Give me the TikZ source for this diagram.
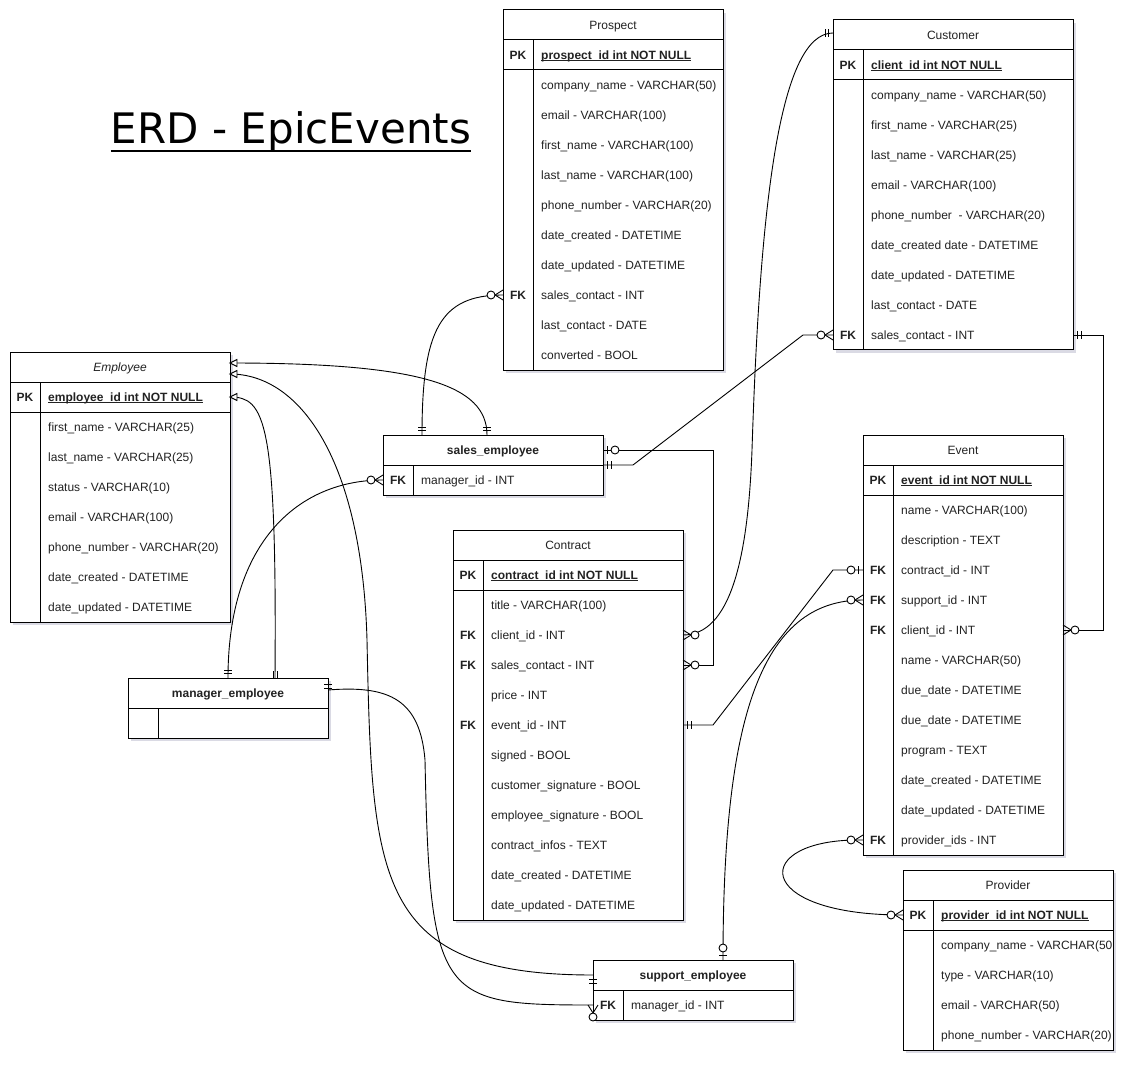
\documentclass[tikz,border=0pt]{standalone}
\usepackage{fontspec}
\setmainfont{Liberation Sans}
\newfontfamily\titlefont{DejaVu Sans}
\usetikzlibrary{calc}
\definecolor{txt}{HTML}{222222}
\definecolor{shadowc}{RGB}{218,218,228}
\newcommand\pkt[1]{\textbf{\setbox0=\hbox{#1}\rlap{\rule[-2pt]{\wd0}{0.8pt}}\box0}}
\tikzset{
  tbl/.style={draw=black, line width=1pt},
  hdr/.style={draw=black, line width=1pt, fill=white, anchor=north west, minimum height=30pt, inner sep=0pt, outer sep=0pt, text=txt, text height=8.6pt, text depth=0.5pt},
  rowbox/.style={minimum height=30pt, inner sep=0pt, outer sep=0pt},
  keyt/.style={font=\fontsize{12}{14}\selectfont\bfseries, text=txt, inner sep=0pt, text height=8.6pt, text depth=0.5pt},
  valt/.style={anchor=west, font=\fontsize{12}{14}\selectfont, text=txt, inner sep=0pt, text height=8.6pt, text depth=0.5pt},
  conn/.style={draw=black, line width=0.9pt},
  mandone/.pic={\draw[line width=0.9pt] (4.5,-4)--(4.5,4) (8,-4)--(8,4);},
  zeromany/.pic={\draw[line width=0.9pt] (0,-5)--(8,0)--(0,5); \draw[line width=0.9pt, fill=white] (12,0) circle[radius=4pt];},
  zeroone/.pic={\draw[line width=0.9pt] (4.5,-4)--(4.5,4); \draw[line width=0.9pt, fill=white] (12,0) circle[radius=4pt];},
  otri/.pic={\draw[line width=0.9pt, fill=white] (0,0)--(7,-3.5)--(7,3.5)--cycle;},
}
% #1 name, #2 x, #3 y, #4 width, #5 rows, #6 title, #7 title font, #8 rows list
\newcommand\ertable[8]{%
  \fill[shadowc] (#2+3,#3+3) rectangle ++(#4,30*#5+30);
  \draw[tbl, fill=white] (#2,#3+30) rectangle ++(#4,30*#5);
  \node[hdr, minimum width=#4pt, font=\fontsize{12}{14}\selectfont#7] (#1) at (#2,#3) {#6};
  \draw[tbl] (#2,#3+60) -- ++(#4,0);
  \draw[tbl] (#2+30,#3+30) -- ++(0,30*#5);
  \foreach \kk/\vv [count=\ri from 0] in {#8}{%
    \node[rowbox, minimum width=#4pt] (#1-\ri) at (#2+#4/2,#3+45+30*\ri) {};
    \node[keyt] at (#2+15,#3+45+30*\ri) {\kk};
    \node[valt] at (#2+38,#3+45+30*\ri) {\vv};
  }%
}
\begin{document}
\begin{tikzpicture}[x=1pt,y=-1pt]
\fill[white] (0,0) rectangle (1130,1067);
\useasboundingbox (0,0) rectangle (1130,1067);

% title
\node[font=\titlefont\fontsize{42}{50}\selectfont, anchor=base, inner sep=0pt, text=black] (title) at (291,144) {ERD - EpicEvents};
\draw[line width=2.6pt] ([yshift=-7pt]title.base west) -- ([yshift=-7pt]title.base east);

% tables
\ertable{pro}{503}{10}{220}{11}{Prospect}{}{PK/{\pkt{prospect\_id int NOT NULL}}, /{company\_name - VARCHAR(50)}, /{email - VARCHAR(100)}, /{first\_name - VARCHAR(100)}, /{last\_name - VARCHAR(100)}, /{phone\_number - VARCHAR(20)}, /{date\_created - DATETIME}, /{date\_updated - DATETIME}, FK/{sales\_contact - INT}, /{last\_contact - DATE}, /{converted - BOOL}}

\ertable{cus}{833}{20}{240}{10}{Customer}{}{PK/{\pkt{client\_id int NOT NULL}}, /{company\_name - VARCHAR(50)}, /{first\_name - VARCHAR(25)}, /{last\_name - VARCHAR(25)}, /{email - VARCHAR(100)}, /{phone\_number~ - VARCHAR(20)}, /{date\_created date - DATETIME}, /{date\_updated - DATETIME}, /{last\_contact - DATE}, FK/{sales\_contact - INT}}

\ertable{emp}{10}{352}{220}{8}{Employee}{\itshape}{PK/{\pkt{employee\_id int NOT NULL}}, /{first\_name - VARCHAR(25)}, /{last\_name - VARCHAR(25)}, /{status - VARCHAR(10)}, /{email - VARCHAR(100)}, /{phone\_number - VARCHAR(20)}, /{date\_created - DATETIME}, /{date\_updated - DATETIME}}

\ertable{se}{383}{435}{220}{1}{sales\_employee}{\bfseries}{FK/{manager\_id - INT}}

\ertable{ev}{863}{435}{200}{13}{Event}{}{PK/{\pkt{event\_id int NOT NULL}}, /{name - VARCHAR(100)}, /{description - TEXT}, FK/{contract\_id - INT}, FK/{support\_id - INT}, FK/{client\_id - INT}, /{name - VARCHAR(50)}, /{due\_date - DATETIME}, /{due\_date - DATETIME}, /{program - TEXT}, /{date\_created - DATETIME}, /{date\_updated - DATETIME}, FK/{provider\_ids - INT}}

\ertable{con}{453}{530}{230}{12}{Contract}{}{PK/{\pkt{contract\_id int NOT NULL}}, /{title - VARCHAR(100)}, FK/{client\_id - INT}, FK/{sales\_contact - INT}, /{price - INT}, FK/{event\_id - INT}, /{signed - BOOL}, /{customer\_signature - BOOL}, /{employee\_signature - BOOL}, /{contract\_infos - TEXT}, /{date\_created - DATETIME}, /{date\_updated - DATETIME}}

\ertable{me}{128}{678}{200}{1}{manager\_employee}{\bfseries}{{}/{}}

\ertable{sup}{593}{960}{200}{1}{support\_employee}{\bfseries}{FK/{manager\_id - INT}}

\ertable{prov}{903}{870}{210}{5}{Provider}{}{PK/{\pkt{provider\_id int NOT NULL}}, /{company\_name - VARCHAR(50}, /{type - VARCHAR(10)}, /{email - VARCHAR(50)}, /{phone\_number - VARCHAR(20)}}

% helper coordinates on node borders
\coordinate (se-a) at ($(se.north west)+(39,0)$);
\coordinate (se-b) at ($(se.north west)+(104,0)$);
\coordinate (emp-a) at ($(emp.east)+(0,-4)$);
\coordinate (emp-b) at ($(emp.east)+(0,7)$);
\coordinate (me-c) at ($(me.north west)+(147,0)$);
\coordinate (me-d) at ($(me.north west)+(100,0)$);
\coordinate (me-e) at ($(me.east)+(0,-3)$);
\coordinate (cus-t) at ($(cus.west)+(0,-2)$);
\coordinate (sup-t) at ($(sup.north west)+(130,0)$);
\coordinate (wA) at (367,640);
\coordinate (wB) at (425,760);
\coordinate (wC) at (752,450);

% connectors
\draw[conn] (se-a) .. controls +(0,-105) and +(-63,0) .. (pro-8.west);
\draw[conn] (se-b) .. controls +(0,-50) and +(190,0) .. (emp-a);
\draw[conn] (emp-b) .. controls +(70,0) and +(-5,-180) .. (wA) .. controls +(5,240) and +(-218,0) .. (sup.west);
\draw[conn] (me-c) .. controls +(2,-258) and +(35,0) .. (emp-0.east);
\draw[conn] (me-d) .. controls +(0,-138) and +(-83,0) .. (se-0.west);
\draw[conn] (me-e) .. controls +(62,-5) and +(-5,-60) .. (wB) .. controls +(5,240) and +(-153,0) .. (sup-0.west);
\draw[conn] (con-2.east) .. controls +(47,0) and +(-4,110) .. (wC) .. controls +(8,-250) and +(-53,0) .. (cus-t);
\draw[conn] (se.south east) -- ++(30,0) -- ($(cus-9.west)+(-30,0)$) -- (cus-9.west);
\draw[conn] (se.east) -| ($(con-3.east)+(30,0)$) -- (con-3.east);
\draw[conn] (cus-9.east) -- ++(30,0) |- (ev-5.east);
\draw[conn] (con-5.east) -- ++(30,0) -- ($(ev-3.west)+(-30,0)$) -- (ev-3.west);
\draw[conn] (sup-t) .. controls +(0,-240) and +(-103,0) .. (ev-4.west);
\draw[conn] (ev-12.west) .. controls +(-113,-2) and +(-153,0) .. (prov-0.west);

% markers
\pic[rotate=90] at (se-a) {mandone};
\pic[rotate=180] at (pro-8.west) {zeromany};
\pic[rotate=90] at (se-b) {mandone};
\pic at (emp-a) {otri};
\pic at (emp-b) {otri};
\pic[rotate=-90] at (sup.west) {mandone};
\pic at (emp-0.east) {otri};
\pic at ($(me-c)+(-6,-3)$) {mandone};
\pic[rotate=90] at (me-d) {mandone};
\pic[rotate=180] at (se-0.west) {zeromany};
\pic[rotate=-90] at ($(me.east)+(0,-13)$) {mandone};
\pic[rotate=-90] at (sup-0.west) {zeromany};
\pic at (con-2.east) {zeromany};
\pic[rotate=180] at (cus-t) {mandone};
\pic at (se.south east) {mandone};
\pic[rotate=180] at (cus-9.west) {zeromany};
\pic at (se.east) {zeroone};
\pic at (con-3.east) {zeromany};
\pic at (cus-9.east) {mandone};
\pic at (ev-5.east) {zeromany};
\pic at (con-5.east) {mandone};
\pic[rotate=180] at (ev-3.west) {zeroone};
\pic[rotate=90] at (sup-t) {zeroone};
\pic[rotate=180] at (ev-4.west) {zeromany};
\pic[rotate=180] at (ev-12.west) {zeromany};
\pic[rotate=180] at (prov-0.west) {zeromany};
\end{tikzpicture}
\end{document}
